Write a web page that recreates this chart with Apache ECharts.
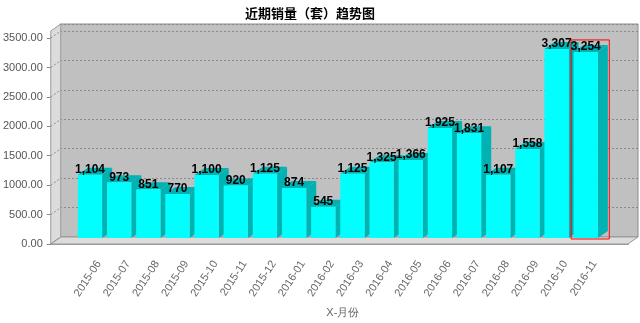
<!DOCTYPE html>
<html>
<head>
<meta charset="utf-8">
<script src="https://cdn.jsdelivr.net/npm/echarts@6/dist/echarts.min.js"></script>
<style>
  html, body { margin: 0; padding: 0; background: #fff; }
  #chart { width: 640px; height: 323px; }
</style>
</head>
<body>
<div id="chart"></div>
<script>
// Monthly sales (units) for the trend chart
const months = ['2015-06', '2015-07', '2015-08', '2015-09', '2015-10', '2015-11', '2015-12',
  '2016-01', '2016-02', '2016-03', '2016-04', '2016-05', '2016-06', '2016-07', '2016-08',
  '2016-09', '2016-10', '2016-11'];
const sales = [1104, 973, 851, 770, 1100, 920, 1125, 874, 545, 1125, 1325, 1366, 1925, 1831,
  1107, 1558, 3307, 3254];
const highlighted = ['2016-11'];
const yTicks = [0, 500, 1000, 1500, 2000, 2500, 3000, 3500];
const yMax = 3620;
const titleText = '近期销量（套）趋势图';
const xName = 'X-月份';

// 3D depth offsets
const DX = 10, DY = 7;
const FRONT = '#00ffff', SHADE = '#00b2b2';
const WALL_SIDE = '#dcdcdc', GRID_LINE = '#8a8a8a';
const FONT = '"Liberation Sans", Arial, sans-serif';

const fmt = v => v.toLocaleString('en-US');

function renderWalls(params, api) {
  const bl = api.coord([0, 0]);
  const tl = api.coord([0, yMax]);
  const br = api.coord([1, 0]);
  const sh = p => [p[0] + DX, p[1] - DY];
  const children = [
    { type: 'polygon', shape: { points: [bl, tl, sh(tl), sh(bl)] },
      style: { fill: WALL_SIDE, stroke: '#9a9a9a', lineWidth: 1 } },
    { type: 'polygon', shape: { points: [bl, sh(bl), sh(br), br] },
      style: { fill: WALL_SIDE, stroke: '#9a9a9a', lineWidth: 1 } }
  ];
  yTicks.forEach(t => {
    const p = api.coord([0, t]);
    children.push({ type: 'line', shape: { x1: p[0], y1: p[1], x2: p[0] + DX, y2: p[1] - DY },
      style: { stroke: GRID_LINE, lineWidth: 1, lineDash: [2, 2] } });
  });
  return { type: 'group', children };
}

function renderBar(params, api) {
  const i = api.value(0), v = api.value(1);
  const top = api.coord([i, v]);
  const base = api.coord([i, 0]);
  const band = api.size([1, 0])[0];
  const w = band * 0.833;
  const x0 = top[0] - w / 2, x1 = top[0] + w / 2;
  const children = [
    { type: 'polygon', shape: { points: [[x1, top[1]], [x1 + DX, top[1] - DY], [x1 + DX, base[1] - DY], [x1, base[1]]] },
      style: { fill: SHADE } },
    { type: 'polygon', shape: { points: [[x0, top[1]], [x0 + DX, top[1] - DY], [x1 + DX, top[1] - DY], [x1, top[1]]] },
      style: { fill: SHADE } },
    { type: 'rect', shape: { x: x0, y: top[1], width: w, height: base[1] - top[1] },
      style: { fill: FRONT } },
    { type: 'text', x: top[0], y: top[1] - 5, z2: 20,
      style: { text: fmt(v), fill: '#000', fontSize: 12, fontWeight: 'bold', fontFamily: FONT,
        align: 'center', verticalAlign: 'middle' } }
  ];
  if (highlighted.includes(months[i])) {
    children.push({ type: 'rect', z2: 10,
      shape: { x: top[0] - band / 2, y: top[1] - 12, width: band + DX - 1, height: base[1] - top[1] + 13 },
      style: { fill: 'none', stroke: '#ff0000', lineWidth: 1 } });
  }
  return { type: 'group', children };
}

const chart = echarts.init(document.getElementById('chart'), null, { renderer: 'canvas' });
chart.setOption({
  animation: false,
  title: {
    text: titleText, left: 240, top: 2,
    textStyle: { fontSize: 13, fontWeight: 'bold', color: '#000', fontFamily: '"Noto Sans CJK SC", sans-serif' }
  },
  grid: [
    { left: 50, right: 12, top: 31, bottom: 79 },          // front plane (axes)
    { left: 75.4, right: 39.7, top: 31, bottom: 79 },      // category bands
    { left: 60, right: 2, top: 24, bottom: 86, show: true, // back wall
      backgroundColor: '#c0c0c0', borderColor: '#8c8c8c', borderWidth: 1 }
  ],
  xAxis: [
    { gridIndex: 0, type: 'value', min: 0, max: 1, offset: 4,
      axisLine: { show: true, lineStyle: { color: '#999', width: 2 } },
      axisTick: { show: false }, axisLabel: { show: false }, splitLine: { show: false } },
    { gridIndex: 1, type: 'category', data: months, offset: 4,
      axisLine: { show: false },
      axisTick: { show: true, alignWithLabel: true, length: 4, lineStyle: { color: '#999' } },
      axisLabel: { interval: 0, rotate: 57, margin: 14, verticalAlign: 'top', padding: [5, 0, 0, 0],
        color: '#666', fontSize: 11, fontFamily: FONT },
      name: xName, nameLocation: 'middle', nameGap: 65,
      nameTextStyle: { color: '#666', fontSize: 11, fontFamily: FONT, padding: [0, 0, 0, 10] } },
    { gridIndex: 2, type: 'value', min: 0, max: 1, show: false }
  ],
  yAxis: [
    { gridIndex: 0, type: 'value', min: 0, max: yMax, interval: 500,
      axisLine: { show: true, lineStyle: { color: '#888', width: 1 } },
      axisTick: { show: true, length: 4, lineStyle: { color: '#888' }, customValues: yTicks },
      axisLabel: { color: '#555', fontSize: 11, fontFamily: FONT, margin: 8, customValues: yTicks,
        formatter: v => (yTicks.includes(v) ? v.toFixed(2) : '') },
      splitLine: { show: false } },
    { gridIndex: 1, type: 'value', min: 0, max: yMax, show: false },
    { gridIndex: 2, type: 'value', min: 0, max: yMax, interval: 500,
      axisLine: { show: false }, axisTick: { show: false }, axisLabel: { show: false },
      splitLine: { show: true, lineStyle: { color: GRID_LINE, type: [2, 2], width: 1 } } }
  ],
  series: [
    { type: 'custom', xAxisIndex: 0, yAxisIndex: 0, z: 1, renderItem: renderWalls, data: [[0, 0]], silent: true },
    { type: 'custom', xAxisIndex: 1, yAxisIndex: 1, z: 2, renderItem: renderBar,
      encode: { x: 0, y: 1 }, data: months.map((m, i) => [i, sales[i]]) }
  ]
});
</script>
</body>
</html>
